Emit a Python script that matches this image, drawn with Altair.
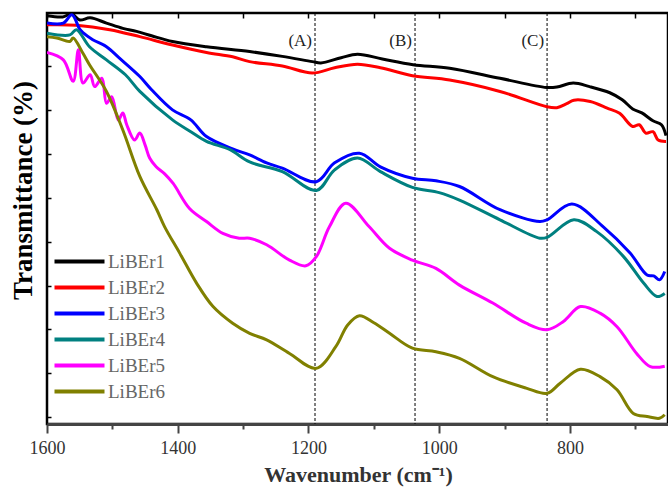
import altair as alt
import pandas as pd

series = ["LiBEr1", "LiBEr2", "LiBEr3", "LiBEr4", "LiBEr5", "LiBEr6"]
colors = ["#000000", "#ff0000", "#0000ff", "#008080", "#ff00ff", "#808000"]

wn1 = [1600, 1576, 1562, 1550, 1534, 1509, 1484, 1463, 1440, 1408, 1356, 1290, 1240, 1194, 1181, 1150,
       1125, 1087, 1040, 984, 907, 836, 820, 795, 770, 739, 720, 704, 690, 673, 660, 653]
t1 = [101.6, 101.3, 102.0, 100.6, 101.1, 99.9, 98.7, 98.0, 97.0, 95.7, 94.5, 93.4, 92.3, 91.1, 90.8, 92.0,
      92.8, 91.7, 90.4, 89.6, 87.3, 85.2, 85.3, 86.2, 85.4, 84.0, 82.4, 80.3, 79.4, 77.6, 76.7, 74.2]

wn2 = [1600, 1555, 1504, 1458, 1408, 1356, 1316, 1290, 1240, 1194, 1160, 1125, 1090, 1041, 984, 907,
       835, 820, 805, 794, 769, 743, 724, 704, 694, 684, 673, 665, 653]
t2 = [99.5, 99.4, 98.4, 96.8, 94.9, 93.2, 92.2, 91.1, 90.1, 88.5, 89.7, 90.5, 89.7, 87.9, 86.9, 84.3,
      80.8, 80.6, 81.5, 82.3, 82.0, 80.5, 79.3, 76.3, 76.7, 74.8, 75.1, 73.2, 72.9]

wn3 = [1600, 1575, 1562, 1550, 1545, 1530, 1509, 1490, 1458, 1440, 1408, 1380, 1356, 1316, 1290, 1264,
       1240, 1188, 1160, 1122, 1090, 1041, 1005, 969, 907, 846, 835, 797, 749, 708, 682, 672, 663, 655]
t3 = [99.9, 99.9, 101.8, 98.5, 97.7, 96.1, 94.5, 92.0, 87.7, 84.7, 80.1, 77.8, 74.0, 71.2, 69.8, 68.0,
      66.8, 63.7, 68.0, 70.2, 67.1, 64.5, 63.9, 62.6, 57.3, 54.6, 55.0, 58.6, 53.4, 47.4, 42.4, 42.2, 41.3, 43.2]

wn4 = [1600, 1565, 1555, 1535, 1509, 1480, 1458, 1408, 1380, 1356, 1320, 1290, 1240, 1188, 1160, 1125,
       1090, 1041, 1000, 969, 907, 846, 835, 794, 759, 718, 687, 667, 655]
t4 = [97.6, 97.2, 98.4, 94.5, 91.5, 88.1, 84.3, 77.8, 75.1, 72.9, 71.0, 68.2, 66.0, 61.7, 66.4, 69.1,
      66.0, 62.4, 61.2, 59.5, 55.0, 50.8, 51.0, 55.0, 52.3, 46.6, 40.5, 37.5, 38.2]

wn5 = [1600, 1575, 1560, 1552, 1545, 1534, 1527, 1516, 1509, 1501, 1491, 1484, 1478, 1466, 1458, 1450,
       1443, 1433, 1420, 1407, 1382, 1356, 1331, 1306, 1290, 1264, 1229, 1204, 1188, 1168, 1143, 1107,
       1076, 1041, 1005, 969, 918, 867, 835, 810, 784, 754, 728, 698, 677, 655]
t5 = [93.2, 91.5, 86.6, 93.8, 86.2, 88.1, 85.4, 87.3, 81.6, 83.1, 77.8, 79.4, 76.7, 73.2, 74.8, 72.1,
      69.1, 67.1, 65.5, 63.3, 57.6, 54.6, 51.9, 50.8, 50.8, 49.3, 45.8, 44.5, 46.6, 53.4, 58.8, 53.4,
      48.5, 45.8, 43.9, 40.1, 36.0, 31.4, 29.9, 31.8, 35.2, 33.7, 30.6, 24.5, 21.5, 21.6]

wn6 = [1600, 1585, 1565, 1560, 1545, 1535, 1509, 1484, 1458, 1432, 1420, 1397, 1371, 1346, 1316, 1290,
       1264, 1229, 1188, 1158, 1140, 1122, 1100, 1076, 1041, 1005, 969, 918, 867, 835, 815, 784, 754,
       728, 703, 682, 663, 655]
t6 = [96.8, 96.5, 95.7, 96.5, 93.0, 90.4, 84.3, 75.5, 64.9, 57.3, 53.4, 47.4, 40.5, 35.2, 31.4, 29.1,
      27.6, 24.5, 21.1, 26.1, 31.0, 33.1, 31.5, 29.1, 25.7, 24.9, 23.4, 19.2, 16.6, 15.4, 17.7, 20.9, 19.2,
      16.2, 10.8, 10.1, 9.7, 10.5]

ann_wn = [1190, 1037, 835]
ann_label = ["(A)", "(B)", "(C)"]
ann_y = [95.8, 95.8, 95.8]

major_ticks = [1600, 1500, 1400, 1300, 1200, 1100, 1000, 900, 800, 700]
y_ticks = [10, 20, 30, 40, 50, 60, 70, 80, 90, 100]

rows = []
for name, ws, ts in zip(series, [wn1, wn2, wn3, wn4, wn5, wn6], [t1, t2, t3, t4, t5, t6]):
    for w, t in zip(ws, ts):
        rows.append({"series": name, "wn": w, "T": t})
df = pd.DataFrame(rows)
ann = pd.DataFrame({"wn": ann_wn, "label": ann_label, "ty": ann_y})

FONT = "Liberation Serif"
x_scale = alt.Scale(domain=[1600, 650], nice=False, zero=False)
y_scale = alt.Scale(domain=[8.4, 102.2], nice=False, zero=False)

x_axis = alt.Axis(
    orient="bottom", values=major_ticks, format="d", labelFlush=False,
    labelExpr="datum.value % 200 === 0 ? datum.label : ''",
    tickSize={"condition": {"test": "datum.value % 200 === 0", "value": 9}, "value": 5},
    tickWidth=2, tickColor="#444", domainColor="#444", domainWidth=3, grid=False,
    labelFont=FONT, labelFontSize=18, labelColor="#333", labelPadding=6,
    title="Wavenumber (cm⁻¹)", titleFont=FONT, titleFontSize=22, titleFontWeight="bold",
    titleColor="#333", titleX=311, titleY=57, titleAlign="center", titleBaseline="alphabetic",
)
y_axis = alt.Axis(
    orient="left", values=y_ticks, labels=False, tickSize=4, tickWidth=1.5, tickColor="black",
    domain=False, offset=-4, grid=False,
    title="Transmittance (%)", titleFont=FONT, titleFontSize=27, titleFontWeight="bold",
    titleColor="black", titleX=-28, titleY=177, titleAngle=270, titleAlign="center",
    titleBaseline="middle",
)
top_axis = alt.Axis(
    orient="top", values=major_ticks, labels=False, domain=False, tickSize=5, offset=-5,
    tickWidth=1.5, tickColor="black", title=None, grid=False,
)

rules = alt.Chart(ann).mark_rule(strokeDash=[3, 2], strokeWidth=1, color="black").encode(
    x=alt.X("wn:Q", scale=x_scale, axis=top_axis)
)

lines = alt.Chart(df).mark_line(strokeWidth=3, interpolate="catmull-rom", clip=True).encode(
    x=alt.X("wn:Q", scale=x_scale, axis=x_axis),
    y=alt.Y("T:Q", scale=y_scale, axis=y_axis),
    color=alt.Color(
        "series:N",
        scale=alt.Scale(domain=series, range=colors),
        legend=alt.Legend(
            title=None, orient="none", legendX=23, legendY=239,
            symbolType="M-5,0H5", symbolSize=100, symbolStrokeWidth=4,
            labelFont=FONT, labelFontSize=19, labelColor="#666", labelOffset=19,
            rowPadding=6, padding=0,
        ),
    ),
)

texts = alt.Chart(ann).mark_text(
    align="right", baseline="middle", dx=-3, font=FONT, fontSize=17, color="#222"
).encode(
    x=alt.X("wn:Q", scale=x_scale, axis=None),
    y=alt.Y("ty:Q", scale=y_scale, axis=None),
    text="label:N",
)

chart = (
    alt.layer(rules, lines, texts)
    .resolve_axis(x="independent", y="independent")
    .properties(
        width=621, height=411,
        padding={"left": 47, "top": 13, "right": 0, "bottom": 63},
        autosize=alt.AutoSizeParams(type="none"),
        background="white",
    )
    .configure_view(stroke="black", strokeWidth=2.5)
)

chart.save("out.html", embed_options={"renderer": "svg", "actions": False})
